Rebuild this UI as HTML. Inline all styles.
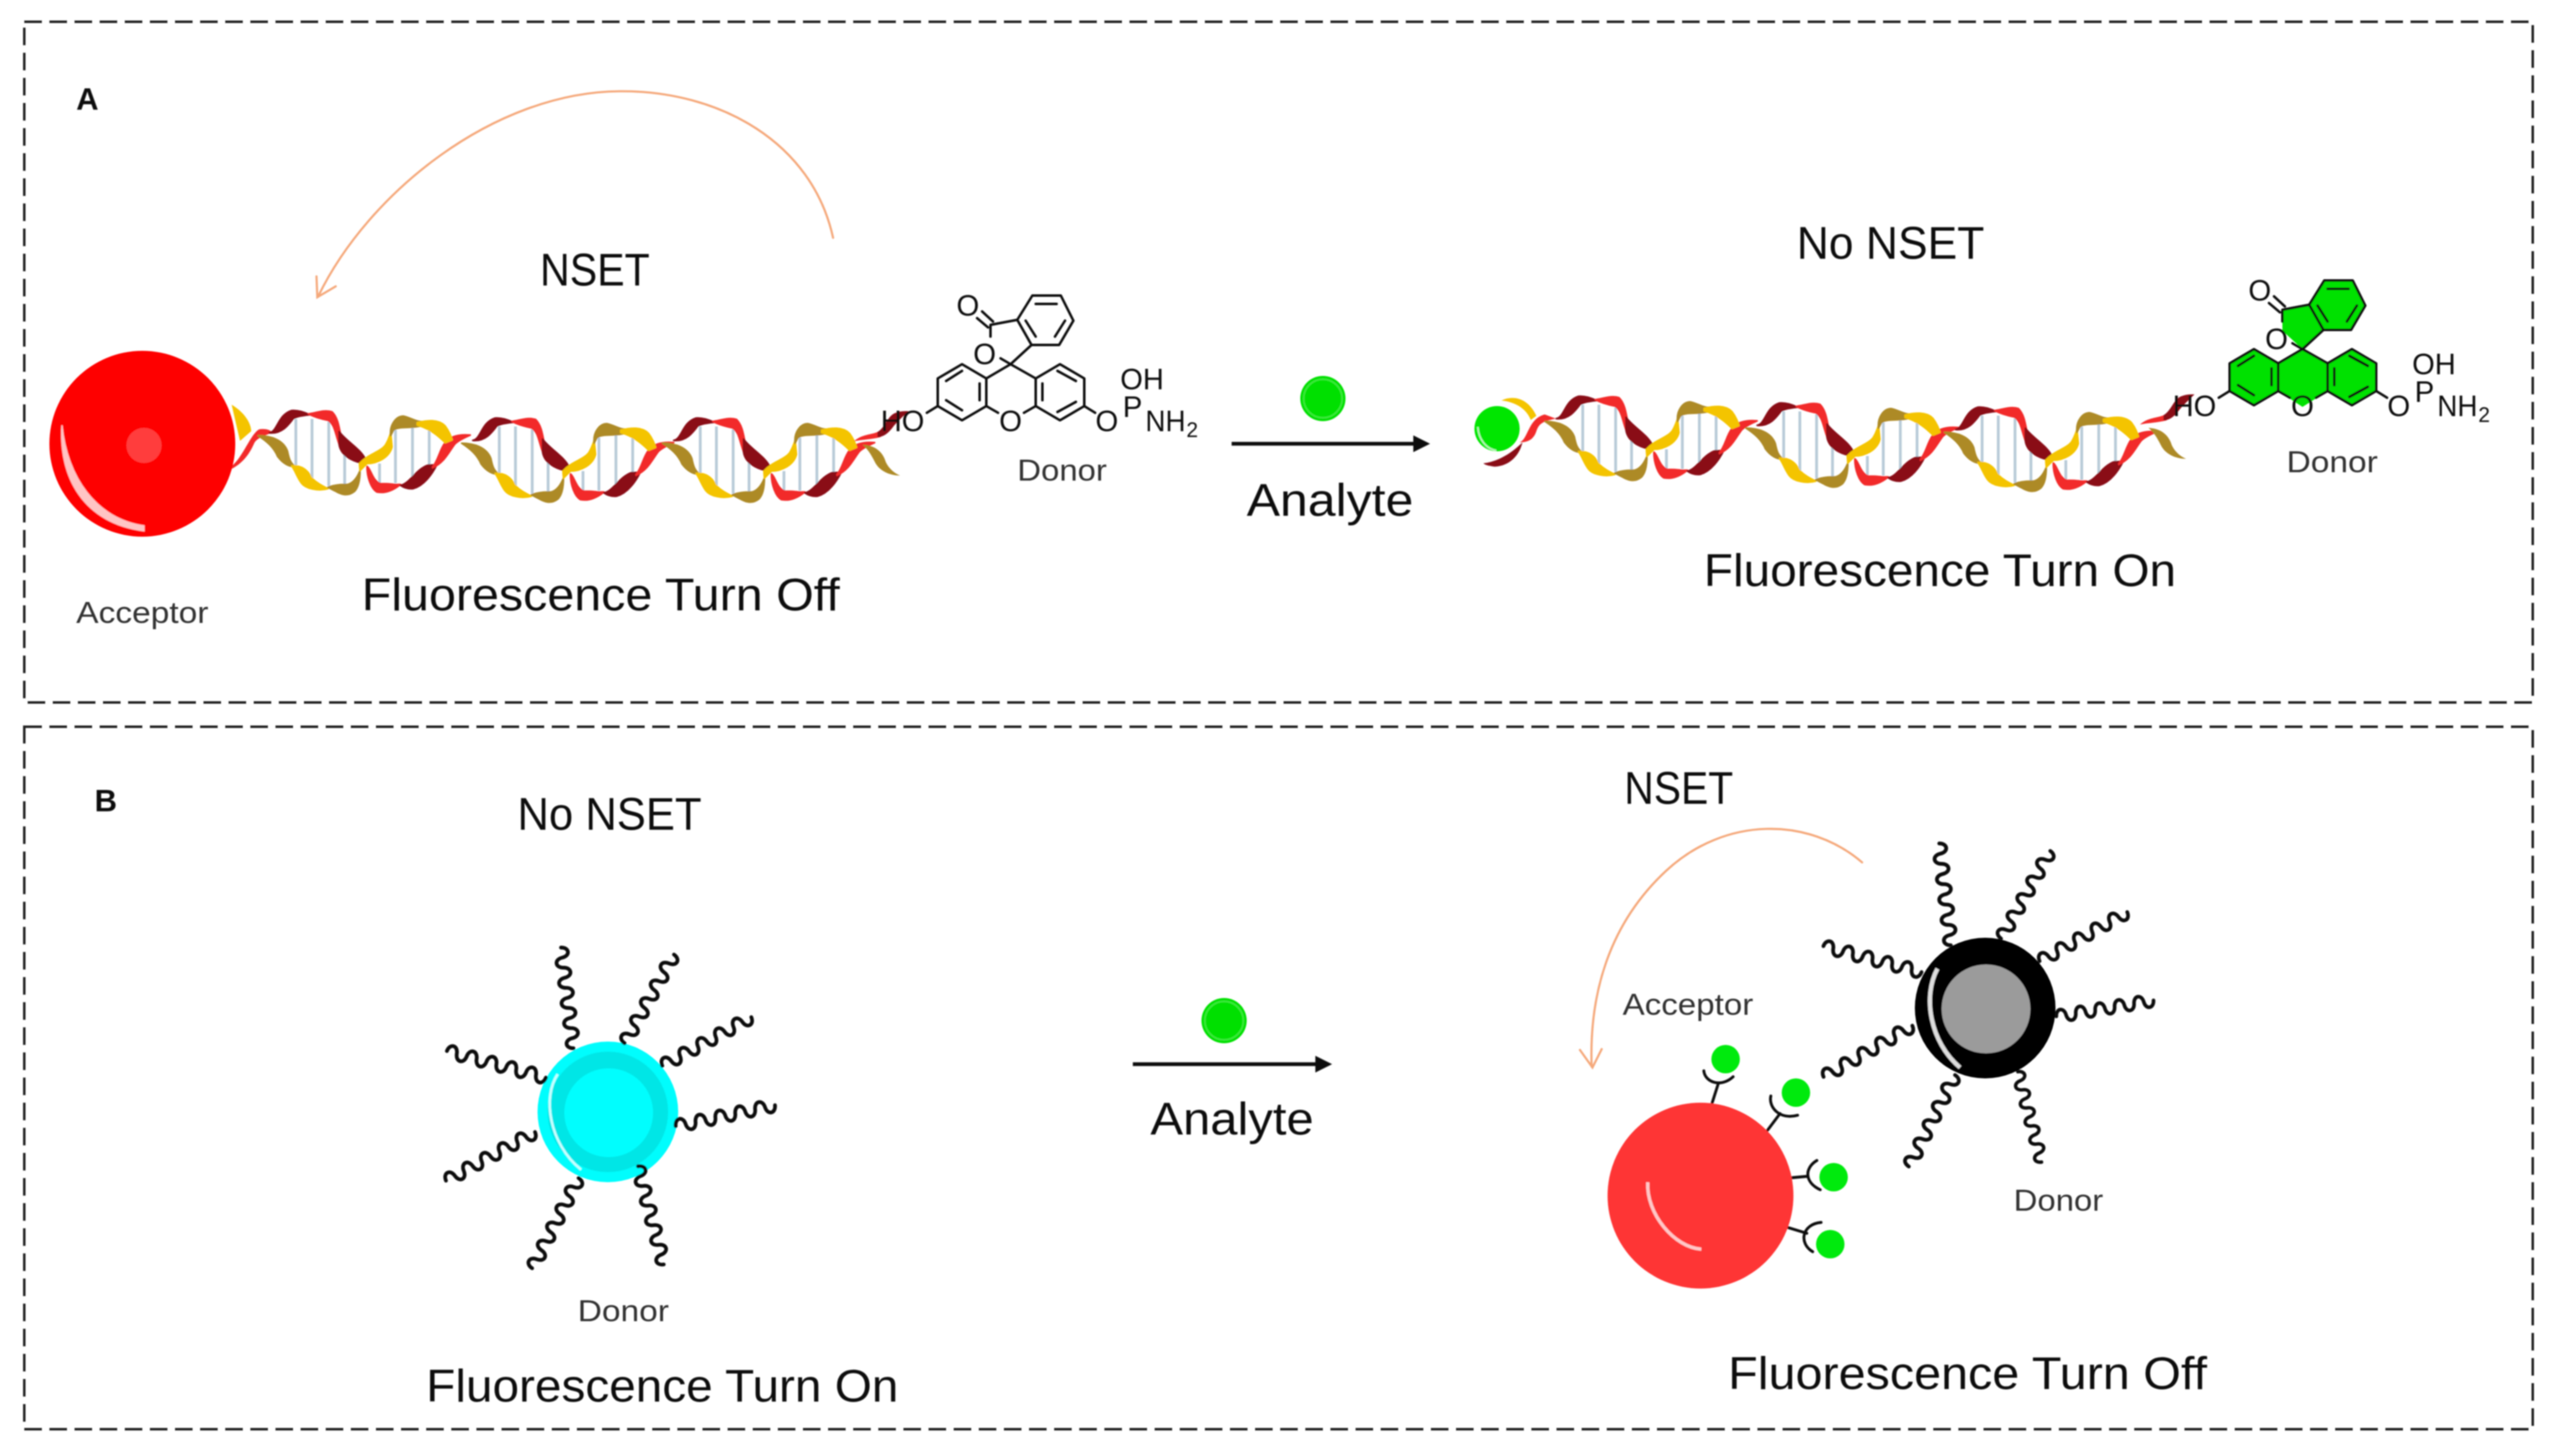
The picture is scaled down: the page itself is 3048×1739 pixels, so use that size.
<!DOCTYPE html>
<html><head><meta charset="utf-8"><style>
html,body{margin:0;padding:0;background:#fff}
svg{display:block}
text{font-family:"Liberation Sans",sans-serif;fill:#111}
.big{font-size:55px}
.sm{font-size:36px;fill:#333}
.m{font-size:35px;fill:#111}
.c{text-anchor:middle}
.w{fill:none;stroke:#111;stroke-width:4.4;stroke-linecap:round}
.b{stroke:#b8cbd8;stroke-width:10;fill:none}
.ml{fill:none;stroke:#111;stroke-width:3;stroke-linecap:round;stroke-linejoin:round}
.or{fill:none;stroke:#f5a97c;stroke-width:2.6;stroke-linecap:round}
.lk{fill:none;stroke:#111;stroke-width:3.4;stroke-linecap:round}
.g1{fill:#ad8a28;stroke:#ad8a28;stroke-width:6;stroke-linejoin:round}
.y1{fill:#f4c400;stroke:#f4c400;stroke-width:6;stroke-linejoin:round}
.r1{fill:#f22a2a;stroke:#f22a2a;stroke-width:6;stroke-linejoin:round}
.d1{fill:#8a0a16;stroke:#8a0a16;stroke-width:6;stroke-linejoin:round}
</style></head><body>
<svg xmlns="http://www.w3.org/2000/svg" width="3048" height="1739" viewBox="0 0 3048 1739">
<defs>
<filter id="bl" x="-5%" y="-5%" width="110%" height="110%"><feGaussianBlur stdDeviation="0.7"/></filter>
<path id="wv" class="w" d="M0,0c1,-10 11,-10 12,0s11,10 12,0s11,-10 12,0s11,10 12,0s11,-10 12,0s11,10 12,0s11,-10 12,0s11,10 12,0s11,-10 12,0s11,10 12,0"/>
<g id="unit" transform="scale(.3333) translate(-60,-140)">
<path class="b" d="M190,90V260M248,90V310M308,100V330M365,200V350M490,250V320M547,130V320M608,105V330M668,125V260"/>
<path class="g1" d="M55,150C100,150 145,165 160,205C165,230 170,250 190,262C160,262 140,245 125,225C110,190 85,170 55,150Z"/>
<path class="y1" d="M175,258C210,255 235,275 245,300C265,320 285,330 305,340C270,350 225,340 210,320C195,300 190,280 175,258Z"/>
<path class="g1" d="M305,335C330,325 355,325 375,325C395,320 410,300 420,275C420,305 415,335 400,350C375,370 350,360 330,348Z"/>
<path class="r1" d="M445,260C460,270 465,315 495,322C520,322 545,325 565,325C540,345 510,358 480,352C460,340 445,300 445,260Z"/>
<path class="d1" d="M565,328C600,320 620,270 665,255L695,255C680,285 650,330 610,340C590,342 575,335 565,328Z"/>
<path class="r1" d="M680,262C700,240 705,200 725,175C745,150 780,145 815,148C800,155 775,165 760,180C740,205 725,245 680,265Z"/>
<path class="d1" d="M95,140C125,135 125,75 175,60C200,58 225,68 240,75C215,78 195,80 180,90C165,110 140,145 95,140Z"/>
<path class="r1" d="M235,72C260,70 290,55 320,65C345,90 345,130 355,165L345,180C330,140 330,110 305,95C280,90 260,85 235,72Z"/>
<path class="d1" d="M345,135C370,170 420,195 440,235L425,248C390,240 350,220 345,180Z"/>
<path class="y1" d="M418,250C450,215 490,210 510,185C520,170 525,155 530,140L535,190C525,230 480,250 445,250L420,275Z"/>
<path class="g1" d="M530,150C525,110 550,80 575,80C600,85 620,100 640,100L640,115C600,125 560,115 540,130Z"/>
<path class="y1" d="M625,103C660,95 700,90 725,115C740,135 745,150 750,165L725,175C700,150 670,125 625,112Z"/>
</g>
<g id="tail">
<path fill="#ad8a28" d="M1030,531C1050,532 1056,545 1058,552C1062,560 1068,565 1075,568C1062,568 1050,562 1045,552C1040,542 1036,536 1030,531Z"/>
<path fill="#f22a2a" d="M1020,527C1030,518 1040,520 1050,515L1052,522C1040,525 1030,525 1020,527Z"/>
<path fill="#8a0a16" d="M1048,516C1058,510 1060,496 1070,493C1075,491 1080,491 1085,491C1078,498 1070,505 1065,512C1060,518 1055,522 1048,522Z"/>
</g>
<g id="mol">
<path class="ml" d="M1149,435L1178,452V485L1149,502L1120,485V452ZM1266,435L1295,452V485L1266,502L1237,485V452ZM1178,452L1207,435L1237,452M1178,485L1192,493M1237,485L1223,493M1233,353H1267L1282,383L1265,412H1232L1215,382ZM1232,412L1207,435L1195,428M1215,382L1183,388V402M1186,384L1173,372M1180,391L1167,380M1120,485L1107,493M1295,485L1308,493M1130,455L1149,443M1170,458V478M1130,478L1149,490M1263,443L1285,455M1245,458V478M1263,492L1285,480M1237,363H1262M1272,383L1260,402M1225,383L1237,402"/>
</g>
</defs>

<g filter="url(#bl)">
<!-- frames -->
<rect x="29" y="26" width="2996" height="813" fill="none" stroke="#222" stroke-width="3" stroke-dasharray="21 9"/>
<rect x="29" y="868" width="2996" height="839" fill="none" stroke="#222" stroke-width="3" stroke-dasharray="21 9"/>

<!-- A left helix -->
<g transform="translate(290,470) scale(.3333)">
<path fill="#f4c400" d="M-40,40C10,70 30,110 30,135L-10,170Z"/>
<path fill="#f22a2a" d="M-40,260C0,230 30,140 60,128C80,125 100,130 105,140C70,155 50,160 40,180C25,215 0,250 -40,270Z"/>
</g>
<use href="#unit" x="310" y="517"/>
<use href="#unit" x="553" y="526"/>
<use href="#unit" x="793" y="526"/>
<use href="#tail"/>
<circle cx="170" cy="530" r="111" fill="#fe0000"/>
<circle cx="172" cy="532" r="21" fill="#ff3c3c"/>
<path d="M74,508C70,570 100,625 172,634L172,628C115,620 80,570 74,508Z" fill="#ffc4c4" stroke="#ffc4c4" stroke-width="1.5"/>

<!-- A molecule -->
<use href="#mol"/>
<text class="m" x="1052" y="515" textLength="52" lengthAdjust="spacingAndGlyphs">HO</text>
<text class="m c" x="1207" y="515">O</text>
<text class="m c" x="1322" y="515">O</text>
<text class="m c" x="1156" y="377">O</text>
<text class="m c" x="1176" y="435">O</text>
<text class="m" x="1338" y="465" textLength="52" lengthAdjust="spacingAndGlyphs">OH</text>
<text class="m" x="1341" y="498">P</text>
<text class="m" x="1368" y="515" textLength="48" lengthAdjust="spacingAndGlyphs">NH</text>
<text x="1417" y="522" style="font-size:25px">2</text>

<!-- A orange arrow -->
<path class="or" d="M995,284C970,170 860,108 740,109C590,110 440,230 380,354M378,330L379,355L401,342"/>

<!-- A reaction arrow -->
<circle cx="1580" cy="476" r="27" fill="#00e000"/><circle cx="1580" cy="476" r="23" fill="none" stroke="#3ae83a" stroke-width="2"/>
<path d="M1471,530H1692" stroke="#111" stroke-width="4.5"/><path d="M1688,520L1708,530L1688,540Z" fill="#111"/>

<!-- A right helix -->
<g transform="translate(1760,450) scale(.3333)">
<path fill="#f4c400" d="M100,85C140,65 195,75 225,140L205,155C190,115 150,90 100,85Z"/>
<path fill="#f22a2a" d="M165,235C195,225 195,150 255,135L295,150C250,160 235,165 225,195C215,225 195,235 165,235Z"/>
<path fill="#8a0a16" d="M35,310C80,305 130,280 175,235C165,280 130,320 75,322C60,320 45,318 35,310Z"/>
</g>
<use href="#unit" x="1847" y="500"/>
<use href="#unit" x="2087" y="508"/>
<use href="#unit" x="2324" y="513"/>
<use href="#tail" x="1536" y="-20"/>
<circle cx="1788" cy="512" r="27" fill="#00e600"/>
<path d="M1765,510C1766,525 1775,536 1787,538" fill="none" stroke="#b8f8b8" stroke-width="2"/>

<!-- A right molecule -->
<g fill="#00e100">
<polygon points="2692,417 2721,434 2721,467 2692,484 2663,467 2663,434"/>
<polygon points="2809,417 2838,434 2838,467 2809,484 2780,467 2780,434"/>
<polygon points="2750,417 2721,434 2721,467 2750,486 2780,467 2780,434"/>
<polygon points="2776,335 2810,335 2825,365 2808,394 2775,394 2758,364"/>
<polygon points="2758,364 2726,370 2726,395 2750,417 2775,394"/>
</g>
<use href="#mol" x="1543" y="-18"/>
<text class="m" x="2595" y="497" textLength="52" lengthAdjust="spacingAndGlyphs">HO</text>
<text class="m c" x="2750" y="497">O</text>
<text class="m c" x="2865" y="497">O</text>
<text class="m c" x="2699" y="359">O</text>
<text class="m c" x="2719" y="417">O</text>
<text class="m" x="2881" y="447" textLength="52" lengthAdjust="spacingAndGlyphs">OH</text>
<text class="m" x="2884" y="480">P</text>
<text class="m" x="2911" y="497" textLength="48" lengthAdjust="spacingAndGlyphs">NH</text>
<text x="2960" y="504" style="font-size:25px">2</text>

<!-- B left particle -->
<circle cx="726" cy="1328" r="84" fill="#00fdfd"/>
<circle cx="726" cy="1328" r="72" fill="#00e6e6"/>
<circle cx="727" cy="1329" r="53" fill="#00fefe"/>
<path d="M666,1283C648,1310 655,1365 694,1397" fill="none" stroke="#c8ffff" stroke-width="3"/>
<use href="#wv" transform="translate(685,1252) rotate(-97.1) scale(1.01)"/>
<use href="#wv" transform="translate(746,1246) rotate(-60.9) scale(1.01)"/>
<use href="#wv" transform="translate(791,1273) rotate(-28.7) scale(1.01)"/>
<use href="#wv" transform="translate(807,1345) rotate(-11.9) scale(1.01)"/>
<use href="#wv" transform="translate(762,1393) rotate(75.3) scale(1.01)"/>
<use href="#wv" transform="translate(691,1407) rotate(117.2) scale(1.01)"/>
<use href="#wv" transform="translate(639,1352) rotate(151.3) scale(1.01)"/>
<use href="#wv" transform="translate(652,1287) rotate(195) scale(1.02)"/>

<!-- B reaction arrow -->
<circle cx="1462" cy="1219" r="27" fill="#00e000"/><circle cx="1462" cy="1219" r="23" fill="none" stroke="#3ae83a" stroke-width="2"/>
<path d="M1353,1271H1575" stroke="#111" stroke-width="4.5"/><path d="M1571,1261L1591,1271L1571,1281Z" fill="#111"/>

<!-- B orange arrow -->
<path class="or" d="M2224,1030C2160,975 2060,975 1990,1040C1920,1105 1898,1190 1901,1274M1887,1254L1902,1275L1913,1253"/>

<!-- B right particle -->
<circle cx="2371" cy="1204" r="84" fill="#000"/>
<circle cx="2372" cy="1205" r="53" fill="#9b9b9b"/>
<path d="M2314,1157C2296,1190 2305,1245 2341,1275" fill="none" stroke="#ddd" stroke-width="5"/>
<use href="#wv" transform="translate(2330,1129) rotate(-96.5) scale(1.02)"/>
<use href="#wv" transform="translate(2390,1121) rotate(-60.7)"/>
<use href="#wv" transform="translate(2436,1148) rotate(-29.3)"/>
<use href="#wv" transform="translate(2456,1214) rotate(-9.4) scale(.98)"/>
<use href="#wv" transform="translate(2410,1280) rotate(75.3) scale(.93)"/>
<use href="#wv" transform="translate(2335,1284) rotate(116.8) scale(1.02)"/>
<use href="#wv" transform="translate(2284,1225) rotate(150) scale(1.02)"/>
<use href="#wv" transform="translate(2295,1161) rotate(194.8) scale(1.01)"/>

<!-- B acceptor -->
<path class="lk" d="M2045,1317L2052,1295M2035,1279C2036,1292 2055,1300 2070,1286M2111,1350L2126,1330M2115,1309C2112,1322 2125,1338 2147,1332M2136,1407L2158,1405M2170,1386C2155,1395 2155,1412 2174,1421M2135,1466L2158,1473M2175,1460C2152,1462 2148,1485 2165,1495"/>
<circle cx="2031" cy="1428" r="111" fill="#fe3636"/>
<path d="M1968,1412C1966,1450 2000,1490 2032,1492" fill="none" stroke="#ffc8c8" stroke-width="4"/>
<circle cx="2061" cy="1265" r="17" fill="#00ea10"/>
<circle cx="2145" cy="1305" r="17" fill="#00ea10"/>
<circle cx="2190" cy="1406" r="17" fill="#00ea10"/>
<circle cx="2186" cy="1486" r="17" fill="#00ea10"/>

<!-- Labels -->
<text x="91" y="131" style="font-size:37px;font-weight:bold">A</text>
<text x="113" y="969" style="font-size:37px;font-weight:bold">B</text>
<text class="big" x="645" y="341" textLength="131" lengthAdjust="spacingAndGlyphs">NSET</text>
<text class="big" x="432" y="729" textLength="571" lengthAdjust="spacingAndGlyphs">Fluorescence Turn Off</text>
<text class="sm" x="91" y="744" textLength="158" lengthAdjust="spacingAndGlyphs">Acceptor</text>
<text class="sm" x="1215" y="574" textLength="107" lengthAdjust="spacingAndGlyphs">Donor</text>
<text class="big" x="1489" y="616" textLength="199" lengthAdjust="spacingAndGlyphs">Analyte</text>
<text class="big" x="2146" y="309" textLength="224" lengthAdjust="spacingAndGlyphs">No NSET</text>
<text class="sm" x="2731" y="564" textLength="109" lengthAdjust="spacingAndGlyphs">Donor</text>
<text class="big" x="2035" y="700" textLength="564" lengthAdjust="spacingAndGlyphs">Fluorescence Turn On</text>
<text class="big" x="618" y="991" textLength="220" lengthAdjust="spacingAndGlyphs">No NSET</text>
<text class="sm" x="690" y="1578" textLength="109" lengthAdjust="spacingAndGlyphs">Donor</text>
<text class="big" x="509" y="1674" textLength="564" lengthAdjust="spacingAndGlyphs">Fluorescence Turn On</text>
<text class="big" x="1374" y="1355" textLength="195" lengthAdjust="spacingAndGlyphs">Analyte</text>
<text class="big" x="1940" y="960" textLength="130" lengthAdjust="spacingAndGlyphs">NSET</text>
<text class="sm" x="1938" y="1212" textLength="156" lengthAdjust="spacingAndGlyphs">Acceptor</text>
<text class="sm" x="2405" y="1446" textLength="107" lengthAdjust="spacingAndGlyphs">Donor</text>
<text class="big" x="2064" y="1659" textLength="572" lengthAdjust="spacingAndGlyphs">Fluorescence Turn Off</text>
</g>
</svg>
</body></html>
